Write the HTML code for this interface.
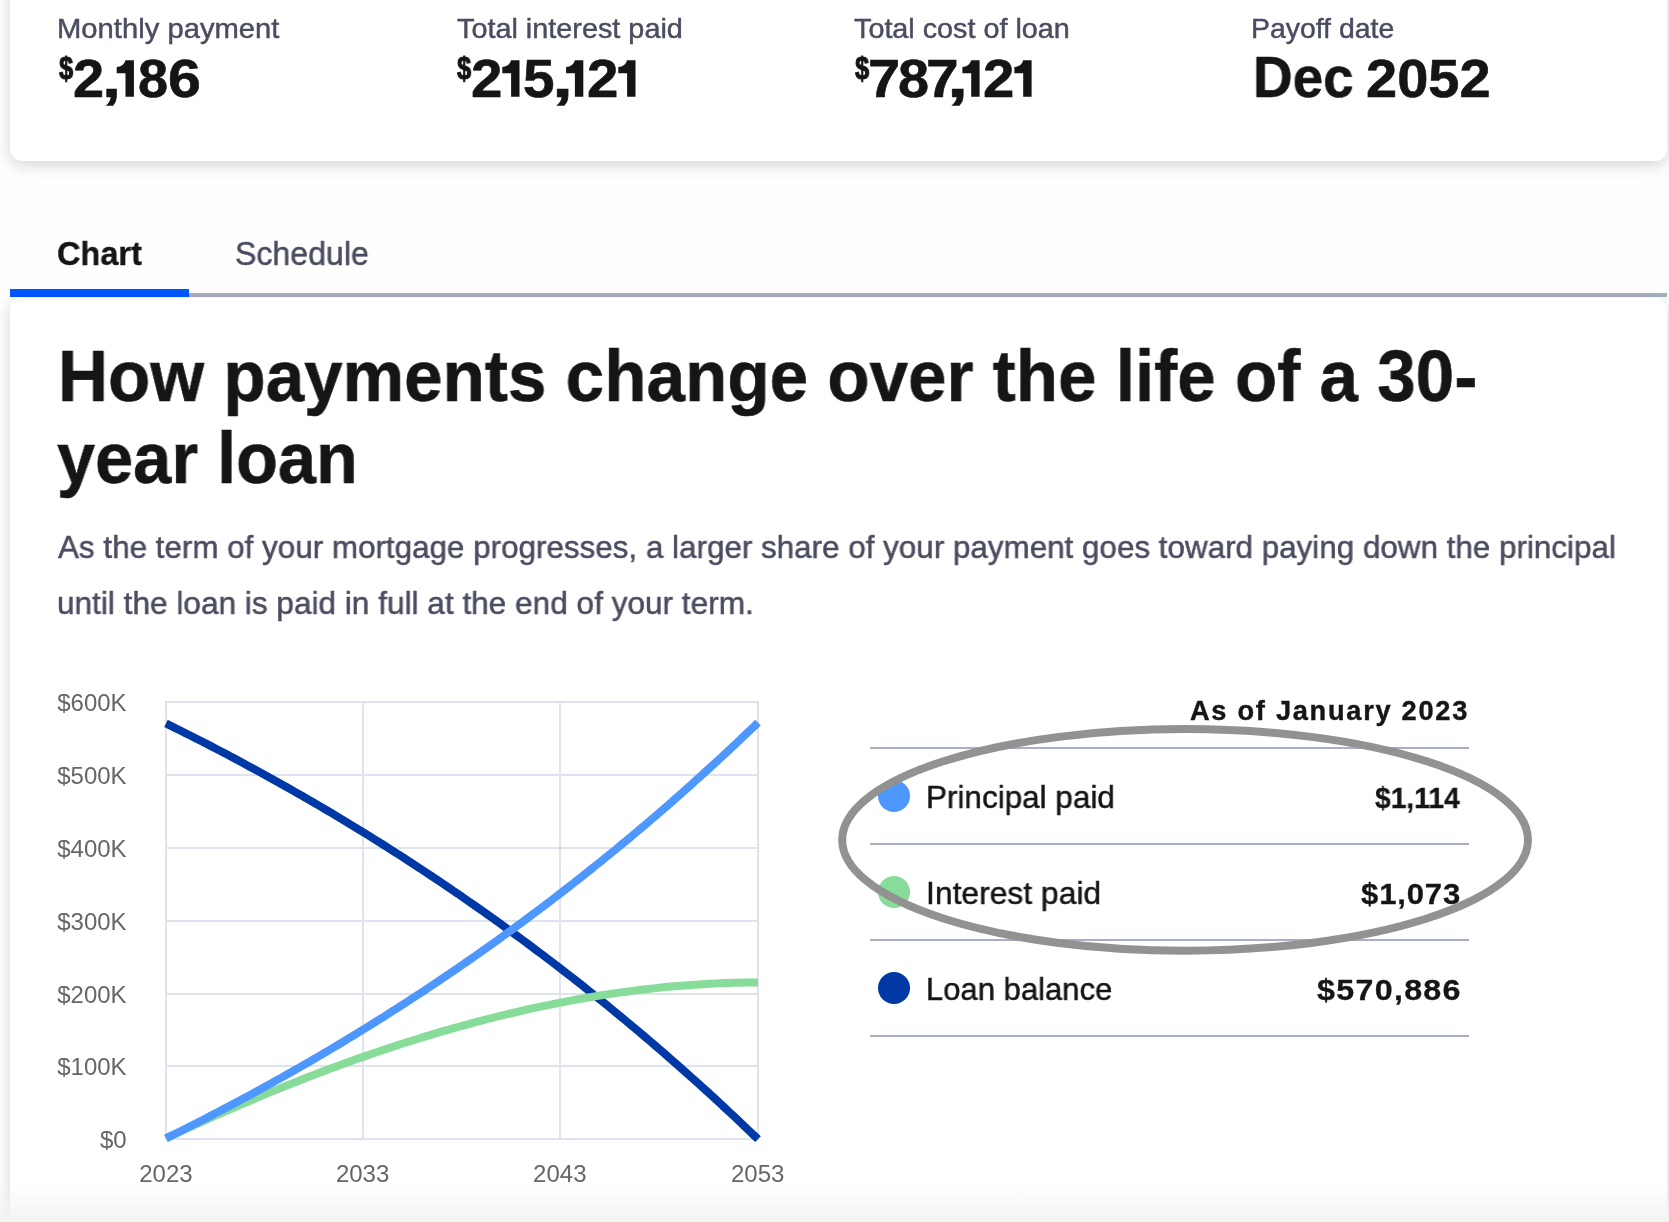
<!DOCTYPE html>
<html lang="en"><head><meta charset="utf-8"><title>Mortgage amortization</title>
<style>
html,body{margin:0;padding:0}
body{width:1669px;height:1222px;overflow:hidden;position:relative;background:#fefefe;font-family:"Liberation Sans", sans-serif}
.card1{position:absolute;left:10px;top:-40px;width:1657px;height:201px;background:#fff;border-radius:12px;box-shadow:0 4px 16px rgba(0,0,0,.17)}
.card2{position:absolute;left:10px;top:298px;width:1657px;height:1000px;background:#fff;border-radius:12px;box-shadow:0 4px 16px rgba(0,0,0,.17)}
.tabline{position:absolute;left:10px;top:293px;width:1657px;height:4px;background:#abb1c4}
.tabactive{position:absolute;left:10px;top:289px;width:179px;height:8px;background:#0157ff}
.t{position:absolute;white-space:nowrap;line-height:1;transform-origin:0 0;display:block;will-change:transform}
.hr{position:absolute;left:870px;width:599px;height:2px;background:#a9afc3}
.dot{position:absolute;left:878px;width:32px;height:32px;border-radius:50%}
.fade{position:absolute;left:0;top:1184px;width:1669px;height:38px;background:linear-gradient(to bottom,rgba(243,243,243,0),rgba(243,243,243,1))}
svg{position:absolute;left:0;top:0;will-change:transform}
svg text{font-family:"Liberation Sans", sans-serif;font-size:24px;fill:#666}
</style></head><body>
<div class="card1"></div>
<div class="tabline"></div><div class="tabactive"></div>
<div class="card2"></div>
<span class="t" style="left:57.34px;top:14.96px;font-size:28px;font-weight:400;color:#4a4c5f;-webkit-text-stroke:0.45px #4a4c5f;transform:scaleX(1.0434)">Monthly payment</span>
<span class="t" style="left:456.58px;top:14.96px;font-size:28px;font-weight:400;color:#4a4c5f;-webkit-text-stroke:0.45px #4a4c5f;transform:scaleX(1.0291)">Total interest paid</span>
<span class="t" style="left:853.58px;top:14.96px;font-size:28px;font-weight:400;color:#4a4c5f;-webkit-text-stroke:0.45px #4a4c5f;transform:scaleX(1.0272)">Total cost of loan</span>
<span class="t" style="left:1250.57px;top:14.96px;font-size:28px;font-weight:400;color:#4a4c5f;-webkit-text-stroke:0.45px #4a4c5f;transform:scaleX(1.0145)">Payoff date</span>
<span class="t" style="left:73.19px;top:51.98px;font-size:53.5px;font-weight:700;color:#151515;-webkit-text-stroke:0.6px #151515;transform:scaleX(1.0459)">2</span>
<span class="t" style="left:101.92px;top:51.98px;font-size:53.5px;font-weight:700;color:#151515;-webkit-text-stroke:0.6px #151515;transform:scaleX(1.2789)">,</span>
<span class="t" style="left:137.94px;top:51.98px;font-size:53.5px;font-weight:700;color:#151515;-webkit-text-stroke:0.6px #151515;transform:scaleX(1.0111)">8</span>
<span class="t" style="left:167.55px;top:51.98px;font-size:53.5px;font-weight:700;color:#151515;-webkit-text-stroke:0.6px #151515;transform:scaleX(1.1034)">6</span>
<span class="t" style="left:471.08px;top:51.98px;font-size:53.5px;font-weight:700;color:#151515;-webkit-text-stroke:0.6px #151515;transform:scaleX(1.0543)">2</span>
<span class="t" style="left:523.44px;top:51.98px;font-size:53.5px;font-weight:700;color:#151515;-webkit-text-stroke:0.6px #151515;transform:scaleX(1.0609)">5</span>
<span class="t" style="left:551.76px;top:51.98px;font-size:53.5px;font-weight:700;color:#151515;-webkit-text-stroke:0.6px #151515;transform:scaleX(1.4182)">,</span>
<span class="t" style="left:587.19px;top:51.98px;font-size:53.5px;font-weight:700;color:#151515;-webkit-text-stroke:0.6px #151515;transform:scaleX(1.0543)">2</span>
<span class="t" style="left:867.88px;top:51.98px;font-size:53.5px;font-weight:700;color:#151515;-webkit-text-stroke:0.6px #151515;transform:scaleX(1.0817)">7</span>
<span class="t" style="left:898.00px;top:51.98px;font-size:53.5px;font-weight:700;color:#151515;-webkit-text-stroke:0.6px #151515;transform:scaleX(1.0426)">8</span>
<span class="t" style="left:925.69px;top:51.98px;font-size:53.5px;font-weight:700;color:#151515;-webkit-text-stroke:0.6px #151515;transform:scaleX(1.0967)">7</span>
<span class="t" style="left:946.99px;top:51.98px;font-size:53.5px;font-weight:700;color:#151515;-webkit-text-stroke:0.6px #151515;transform:scaleX(1.4263)">,</span>
<span class="t" style="left:982.67px;top:51.98px;font-size:53.5px;font-weight:700;color:#151515;-webkit-text-stroke:0.6px #151515;transform:scaleX(1.0514)">2</span>
<span class="t" style="left:1252.57px;top:47.77px;font-size:58px;font-weight:700;color:#151515;-webkit-text-stroke:0.6px #151515;transform:scaleX(0.9447)">Dec</span>
<span class="t" style="left:1365.86px;top:51.98px;font-size:53.5px;font-weight:700;color:#151515;-webkit-text-stroke:0.6px #151515;transform:scaleX(1.0461)">2052</span>
<span class="t" style="left:58.86px;top:52.65px;font-size:30.5px;font-weight:700;color:#151515;-webkit-text-stroke:1.0px #151515;transform:scaleX(0.8355)">$</span>
<span class="t" style="left:457.40px;top:52.65px;font-size:30.5px;font-weight:700;color:#151515;-webkit-text-stroke:1.0px #151515;transform:scaleX(0.8355)">$</span>
<span class="t" style="left:855.40px;top:52.65px;font-size:30.5px;font-weight:700;color:#151515;-webkit-text-stroke:1.0px #151515;transform:scaleX(0.8355)">$</span>
<span class="t" style="left:56.97px;top:236.67px;font-size:33px;font-weight:700;color:#151515;-webkit-text-stroke:0.4px #151515;transform:scaleX(0.9851)">Chart</span>
<span class="t" style="left:234.92px;top:237.33px;font-size:33px;font-weight:400;color:#4a4c5f;-webkit-text-stroke:0.5px #4a4c5f;transform:scaleX(0.9723)">Schedule</span>
<span class="t" style="left:58.24px;top:340.02px;font-size:72px;font-weight:700;color:#151515;-webkit-text-stroke:0.6px #151515;transform:scaleX(0.9613)">How payments change over the life of a 30-</span>
<span class="t" style="left:56.90px;top:422.32px;font-size:72px;font-weight:700;color:#151515;-webkit-text-stroke:0.6px #151515;transform:scaleX(0.9511)">year loan</span>
<span class="t" style="left:57.99px;top:531.18px;font-size:32px;font-weight:400;color:#4a4c5f;-webkit-text-stroke:0.5px #4a4c5f;transform:scaleX(0.9808)">As the term of your mortgage progresses, a larger share of your payment goes toward paying down the principal</span>
<span class="t" style="left:57.13px;top:587.08px;font-size:32px;font-weight:400;color:#4a4c5f;-webkit-text-stroke:0.5px #4a4c5f;transform:scaleX(0.9866)">until the loan is paid in full at the end of your term.</span>
<span class="t" style="left:1190.32px;top:697.54px;font-size:27px;font-weight:700;color:#151515;-webkit-text-stroke:0.4px #151515;letter-spacing:1.7px;transform:scaleX(1.0083)">As of January 2023</span>
<span class="t" style="left:926.04px;top:780.78px;font-size:32px;font-weight:400;color:#151515;-webkit-text-stroke:0.5px #151515;transform:scaleX(0.9830)">Principal paid</span>
<span class="t" style="left:926.01px;top:876.78px;font-size:32px;font-weight:400;color:#151515;-webkit-text-stroke:0.5px #151515;transform:scaleX(0.9946)">Interest paid</span>
<span class="t" style="left:926.08px;top:972.78px;font-size:32px;font-weight:400;color:#151515;-webkit-text-stroke:0.5px #151515;transform:scaleX(0.9689)">Loan balance</span>
<span class="t" style="left:1374.56px;top:783.23px;font-size:29.5px;font-weight:700;color:#151515;-webkit-text-stroke:0.3px #151515;transform:scaleX(0.9566)">$1,114</span>
<span class="t" style="left:1361.10px;top:879.23px;font-size:29.5px;font-weight:700;color:#151515;-webkit-text-stroke:0.3px #151515;letter-spacing:0.8px;transform:scaleX(1.0534)">$1,073</span>
<span class="t" style="left:1316.68px;top:975.23px;font-size:29.5px;font-weight:700;color:#151515;-webkit-text-stroke:0.3px #151515;letter-spacing:1.2px;transform:scaleX(1.0918)">$570,886</span>
<div class="hr" style="top:747px"></div>
<div class="hr" style="top:843px"></div>
<div class="hr" style="top:939px"></div>
<div class="hr" style="top:1035px"></div>
<div class="dot" style="top:780px;background:#4d97ff"></div>
<div class="dot" style="top:876px;background:#86dc98"></div>
<div class="dot" style="top:972px;background:#0039a6"></div>
<svg width="1669" height="1222" viewBox="0 0 1669 1222">
<g shape-rendering="crispEdges" fill="#dfe3ed"><rect x="165" y="701" width="594" height="2"/><rect x="165" y="774" width="594" height="2"/><rect x="165" y="847" width="594" height="2"/><rect x="165" y="920" width="594" height="2"/><rect x="165" y="993" width="594" height="2"/><rect x="165" y="1065" width="594" height="2"/><rect x="165" y="1138" width="594" height="2"/><rect x="165" y="701" width="2" height="439"/><rect x="362" y="701" width="2" height="439"/><rect x="559" y="701" width="2" height="439"/><rect x="757" y="701" width="2" height="439"/></g>
<text x="126.6" y="710.7" text-anchor="end">$600K</text><text x="126.6" y="783.7" text-anchor="end">$500K</text><text x="126.6" y="856.7" text-anchor="end">$400K</text><text x="126.6" y="929.7" text-anchor="end">$300K</text><text x="126.6" y="1002.7" text-anchor="end">$200K</text><text x="126.6" y="1074.7" text-anchor="end">$100K</text><text x="126.6" y="1147.7" text-anchor="end">$0</text><text x="165.9" y="1181.7" text-anchor="middle">2023</text><text x="362.6" y="1181.7" text-anchor="middle">2033</text><text x="559.8" y="1181.7" text-anchor="middle">2043</text><text x="757.7" y="1181.7" text-anchor="middle">2053</text>
<path d="M166.0,723.4 L170.9,725.8 L175.9,728.3 L180.8,730.8 L185.8,733.3 L190.7,735.8 L195.7,738.3 L200.6,740.8 L205.6,743.3 L210.5,745.9 L215.5,748.5 L220.4,751.0 L225.4,753.6 L230.3,756.3 L235.3,758.9 L240.2,761.5 L245.2,764.2 L250.1,766.9 L255.0,769.6 L260.0,772.3 L264.9,775.0 L269.9,777.7 L274.8,780.5 L279.8,783.2 L284.7,786.0 L289.7,788.8 L294.6,791.6 L299.6,794.4 L304.5,797.3 L309.5,800.1 L314.4,803.0 L319.4,805.9 L324.3,808.8 L329.3,811.7 L334.2,814.7 L339.1,817.6 L344.1,820.6 L349.0,823.6 L354.0,826.6 L358.9,829.6 L363.9,832.7 L368.8,835.7 L373.8,838.8 L378.7,841.9 L383.7,845.0 L388.6,848.1 L393.6,851.3 L398.5,854.5 L403.5,857.6 L408.4,860.8 L413.4,864.1 L418.3,867.3 L423.2,870.5 L428.2,873.8 L433.1,877.1 L438.1,880.4 L443.0,883.7 L448.0,887.1 L452.9,890.5 L457.9,893.8 L462.8,897.2 L467.8,900.7 L472.7,904.1 L477.7,907.6 L482.6,911.1 L487.6,914.6 L492.5,918.1 L497.5,921.6 L502.4,925.2 L507.3,928.8 L512.3,932.4 L517.2,936.0 L522.2,939.6 L527.1,943.3 L532.1,947.0 L537.0,950.7 L542.0,954.4 L546.9,958.1 L551.9,961.9 L556.8,965.7 L561.8,969.5 L566.7,973.3 L571.7,977.2 L576.6,981.0 L581.6,984.9 L586.5,988.9 L591.4,992.8 L596.4,996.8 L601.3,1000.7 L606.3,1004.7 L611.2,1008.8 L616.2,1012.8 L621.1,1016.9 L626.1,1021.0 L631.0,1025.1 L636.0,1029.3 L640.9,1033.4 L645.9,1037.6 L650.8,1041.8 L655.8,1046.1 L660.7,1050.3 L665.7,1054.6 L670.6,1058.9 L675.5,1063.3 L680.5,1067.6 L685.4,1072.0 L690.4,1076.4 L695.3,1080.8 L700.3,1085.3 L705.2,1089.8 L710.2,1094.3 L715.1,1098.8 L720.1,1103.4 L725.0,1108.0 L730.0,1112.6 L734.9,1117.2 L739.9,1121.9 L744.8,1126.6 L749.8,1131.3 L754.7,1136.0 L758.0,1139.2" fill="none" stroke="#0039a6" stroke-width="8"/>
<path d="M166.0,1138.4 L170.9,1136.1 L175.9,1133.8 L180.8,1131.5 L185.8,1129.2 L190.7,1126.9 L195.7,1124.6 L200.6,1122.4 L205.6,1120.1 L210.5,1117.9 L215.5,1115.7 L220.4,1113.5 L225.4,1111.3 L230.3,1109.2 L235.3,1107.0 L240.2,1104.9 L245.2,1102.8 L250.1,1100.7 L255.0,1098.6 L260.0,1096.5 L264.9,1094.4 L269.9,1092.4 L274.8,1090.4 L279.8,1088.4 L284.7,1086.4 L289.7,1084.4 L294.6,1082.4 L299.6,1080.5 L304.5,1078.5 L309.5,1076.6 L314.4,1074.7 L319.4,1072.8 L324.3,1071.0 L329.3,1069.1 L334.2,1067.3 L339.1,1065.4 L344.1,1063.6 L349.0,1061.9 L354.0,1060.1 L358.9,1058.3 L363.9,1056.6 L368.8,1054.9 L373.8,1053.2 L378.7,1051.5 L383.7,1049.8 L388.6,1048.2 L393.6,1046.5 L398.5,1044.9 L403.5,1043.3 L408.4,1041.8 L413.4,1040.2 L418.3,1038.7 L423.2,1037.1 L428.2,1035.6 L433.1,1034.1 L438.1,1032.7 L443.0,1031.2 L448.0,1029.8 L452.9,1028.4 L457.9,1027.0 L462.8,1025.6 L467.8,1024.3 L472.7,1022.9 L477.7,1021.6 L482.6,1020.3 L487.6,1019.0 L492.5,1017.8 L497.5,1016.5 L502.4,1015.3 L507.3,1014.1 L512.3,1013.0 L517.2,1011.8 L522.2,1010.7 L527.1,1009.5 L532.1,1008.4 L537.0,1007.4 L542.0,1006.3 L546.9,1005.3 L551.9,1004.3 L556.8,1003.3 L561.8,1002.3 L566.7,1001.4 L571.7,1000.4 L576.6,999.5 L581.6,998.7 L586.5,997.8 L591.4,997.0 L596.4,996.1 L601.3,995.3 L606.3,994.6 L611.2,993.8 L616.2,993.1 L621.1,992.4 L626.1,991.7 L631.0,991.1 L636.0,990.4 L640.9,989.8 L645.9,989.2 L650.8,988.7 L655.8,988.1 L660.7,987.6 L665.7,987.1 L670.6,986.6 L675.5,986.2 L680.5,985.8 L685.4,985.4 L690.4,985.0 L695.3,984.7 L700.3,984.4 L705.2,984.1 L710.2,983.8 L715.1,983.6 L720.1,983.3 L725.0,983.1 L730.0,983.0 L734.9,982.8 L739.9,982.7 L744.8,982.6 L749.8,982.6 L754.7,982.5 L758.0,982.5" fill="none" stroke="#86dc98" stroke-width="8"/>
<path d="M166.0,1138.4 L170.9,1135.9 L175.9,1133.5 L180.8,1131.0 L185.8,1128.5 L190.7,1126.0 L195.7,1123.5 L200.6,1121.0 L205.6,1118.5 L210.5,1115.9 L215.5,1113.3 L220.4,1110.7 L225.4,1108.1 L230.3,1105.5 L235.3,1102.9 L240.2,1100.3 L245.2,1097.6 L250.1,1094.9 L255.0,1092.2 L260.0,1089.5 L264.9,1086.8 L269.9,1084.1 L274.8,1081.3 L279.8,1078.6 L284.7,1075.8 L289.7,1073.0 L294.6,1070.2 L299.6,1067.4 L304.5,1064.5 L309.5,1061.7 L314.4,1058.8 L319.4,1055.9 L324.3,1053.0 L329.3,1050.1 L334.2,1047.1 L339.1,1044.2 L344.1,1041.2 L349.0,1038.2 L354.0,1035.2 L358.9,1032.2 L363.9,1029.1 L368.8,1026.1 L373.8,1023.0 L378.7,1019.9 L383.7,1016.8 L388.6,1013.6 L393.6,1010.5 L398.5,1007.3 L403.5,1004.2 L408.4,1001.0 L413.4,997.7 L418.3,994.5 L423.2,991.3 L428.2,988.0 L433.1,984.7 L438.1,981.4 L443.0,978.0 L448.0,974.7 L452.9,971.3 L457.9,968.0 L462.8,964.5 L467.8,961.1 L472.7,957.7 L477.7,954.2 L482.6,950.7 L487.6,947.2 L492.5,943.7 L497.5,940.2 L502.4,936.6 L507.3,933.0 L512.3,929.4 L517.2,925.8 L522.2,922.2 L527.1,918.5 L532.1,914.8 L537.0,911.1 L542.0,907.4 L546.9,903.7 L551.9,899.9 L556.8,896.1 L561.8,892.3 L566.7,888.5 L571.7,884.6 L576.6,880.7 L581.6,876.9 L586.5,872.9 L591.4,869.0 L596.4,865.0 L601.3,861.1 L606.3,857.0 L611.2,853.0 L616.2,849.0 L621.1,844.9 L626.1,840.8 L631.0,836.7 L636.0,832.5 L640.9,828.4 L645.9,824.2 L650.8,820.0 L655.8,815.7 L660.7,811.5 L665.7,807.2 L670.6,802.9 L675.5,798.5 L680.5,794.2 L685.4,789.8 L690.4,785.4 L695.3,780.9 L700.3,776.5 L705.2,772.0 L710.2,767.5 L715.1,763.0 L720.1,758.4 L725.0,753.8 L730.0,749.2 L734.9,744.6 L739.9,739.9 L744.8,735.2 L749.8,730.5 L754.7,725.8 L758.0,722.6" fill="none" stroke="#4d97ff" stroke-width="8"/>
<path transform="translate(133.9,96.8)" d="M0,0V-36.6H-8.4Q-10.2,-30.2 -17.2,-29.8V-23.6H-8.4V0Z" fill="#151515"/><path transform="translate(519.5,96.8)" d="M0,0V-36.6H-8.4Q-10.2,-30.2 -17.2,-29.8V-23.6H-8.4V0Z" fill="#151515"/><path transform="translate(583.3,96.8)" d="M0,0V-36.6H-8.4Q-10.2,-30.2 -17.2,-29.8V-23.6H-8.4V0Z" fill="#151515"/><path transform="translate(635.5,96.8)" d="M0,0V-36.6H-8.4Q-10.2,-30.2 -17.2,-29.8V-23.6H-8.4V0Z" fill="#151515"/><path transform="translate(979.6,96.8)" d="M0,0V-36.6H-8.4Q-10.2,-30.2 -17.2,-29.8V-23.6H-8.4V0Z" fill="#151515"/><path transform="translate(1031.6,96.8)" d="M0,0V-36.6H-8.4Q-10.2,-30.2 -17.2,-29.8V-23.6H-8.4V0Z" fill="#151515"/>
<ellipse cx="1185.1" cy="839.9" rx="342.9" ry="110.8" fill="none" stroke="#929292" stroke-width="8"/>
</svg>
<div class="fade"></div>
</body></html>
